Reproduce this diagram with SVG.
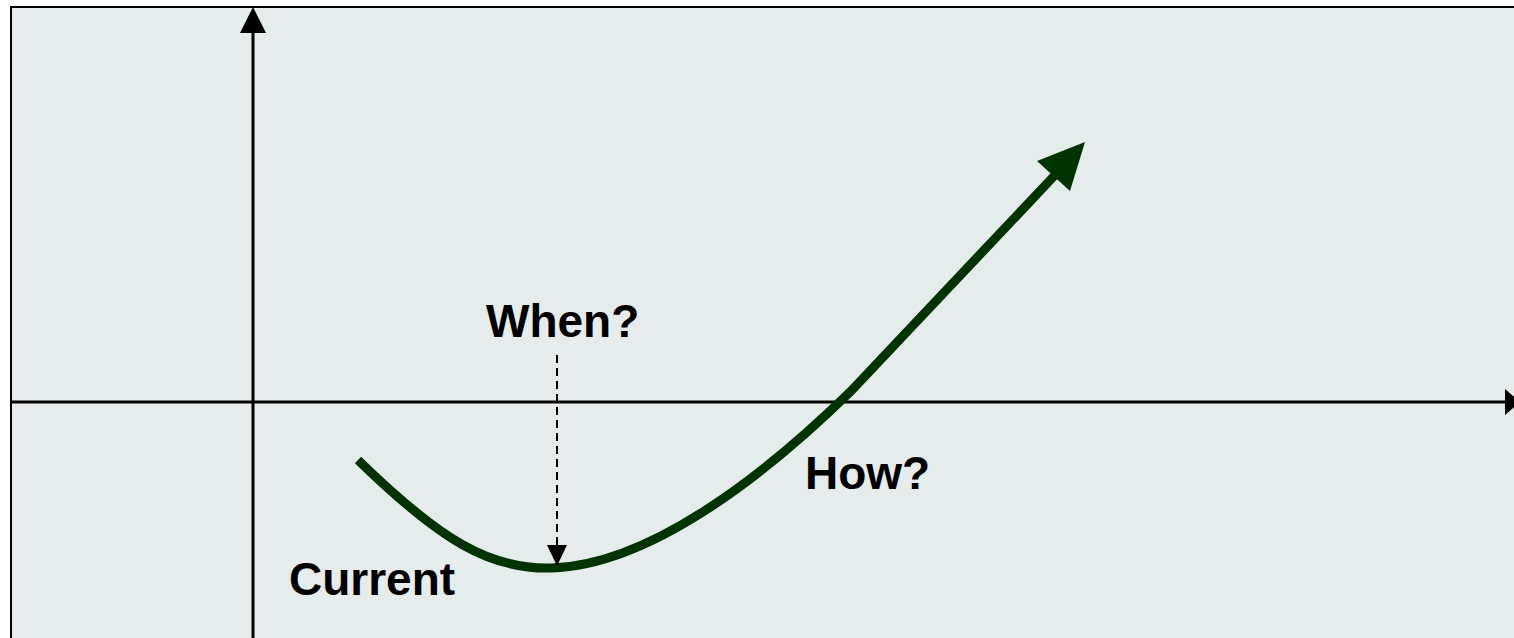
<svg xmlns="http://www.w3.org/2000/svg" width="1514" height="638" viewBox="0 0 1514 638">
<defs>
<style>
.axis{stroke:#000;stroke-width:3;fill:none}
.lbl{font-family:"Liberation Sans",Arial,sans-serif;font-weight:bold;font-size:46px;fill:#000}
</style>
</defs>
<rect x="11" y="7" width="1530" height="660" fill="#e6ecec" stroke="#000" stroke-width="2"/>
<g id="connectors">
<line class="axis" x1="253" y1="30" x2="253" y2="640"/>
<polygon points="253,7 240,33 266,33" fill="#000"/>
<line class="axis" x1="10" y1="402" x2="1506" y2="402"/>
<polygon points="1520,402 1505,389 1505,415" fill="#000"/>
<path d="M358,460 C440,540 490,570 552,568 C650,565 765,475 850,392 L1056,174" fill="none" stroke="#003300" stroke-width="9"/>
<polygon points="1085,142 1037,161 1070,191" fill="#003300"/>
<line x1="557" y1="355" x2="557" y2="547" stroke="#000" stroke-width="2" stroke-dasharray="8,5"/>
<polygon points="557,566 547,545 567,545" fill="#000"/>
</g>
<g id="when"><text class="lbl" x="486" y="337">When?</text></g>
<g id="how"><text class="lbl" x="805" y="489">How?</text></g>
<g id="current"><text class="lbl" x="289" y="595">Current</text></g>
</svg>
